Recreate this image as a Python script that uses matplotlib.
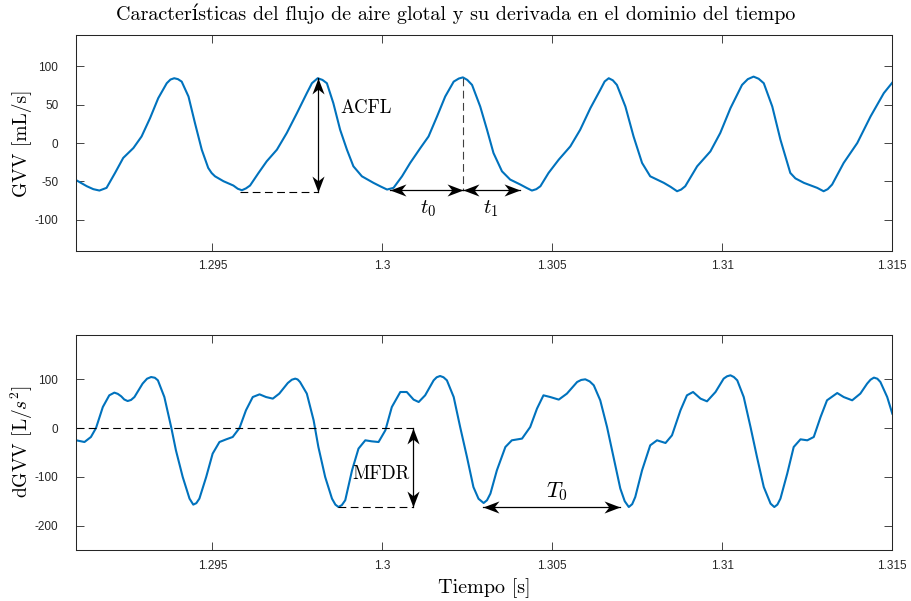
import matplotlib
matplotlib.use("Agg")
import matplotlib.pyplot as plt
from matplotlib.path import Path
from matplotlib.markers import MarkerStyle
from matplotlib.transforms import Affine2D

# ---------------- data ----------------
t_gvv = [1.29100, 1.29131, 1.29150, 1.29168, 1.29189, 1.29214, 1.29238, 1.29268, 1.29292, 1.29317,
         1.29341, 1.29366, 1.29377, 1.29388, 1.29399, 1.29410, 1.29430, 1.29449, 1.29469, 1.29488,
         1.29498, 1.29508, 1.29533, 1.29562, 1.29575, 1.29587, 1.29599, 1.29611, 1.29636, 1.29660,
         1.29690, 1.29719, 1.29749, 1.29778, 1.29793, 1.29810, 1.29824, 1.29837, 1.29856, 1.29876,
         1.29896, 1.29915, 1.29940, 1.29974, 1.29995, 1.30014, 1.30033, 1.30058, 1.30082, 1.30112,
         1.30136, 1.30161, 1.30185, 1.30210, 1.30225, 1.30237, 1.30250, 1.30264, 1.30288, 1.30308,
         1.30327, 1.30352, 1.30376, 1.30406, 1.30425, 1.30440, 1.30453, 1.30465, 1.30489, 1.30519,
         1.30553, 1.30582, 1.30612, 1.30641, 1.30654, 1.30666, 1.30678, 1.30690, 1.30715, 1.30739,
         1.30764, 1.30788, 1.30828, 1.30848, 1.30867, 1.30879, 1.30891, 1.30926, 1.30965, 1.30994,
         1.31024, 1.31058, 1.31075, 1.31092, 1.31107, 1.31122, 1.31147, 1.31171, 1.31200, 1.31215,
         1.31240, 1.31279, 1.31298, 1.31310, 1.31323, 1.31357, 1.31397, 1.31436, 1.31475, 1.31500]
gvv = [-48.4, -56.2, -60.0, -61.8, -58.3, -38.9, -19.4, -6.5, 8.5, 32.4,
       58.3, 77.7, 82.5, 84.2, 83.0, 79.8, 60.4, 25.9, -8.7, -32.4,
       -39.0, -43.3, -49.7, -55.3, -59.5, -61.4, -59.0, -55.3, -38.9, -23.8,
       -8.7, 13.0, 38.9, 64.8, 77.7, 84.2, 82.0, 77.7, 51.8, 17.2,
       -8.7, -30.3, -43.3, -51.8, -56.5, -60.5, -58.3, -43.3, -25.9, -6.5,
       8.5, 34.5, 60.4, 79.8, 83.8, 85.3, 82.0, 75.5, 47.4, 17.2,
       -13.0, -36.8, -47.5, -54.0, -58.5, -61.8, -60.0, -56.2, -38.9, -21.6,
       -4.4, 17.2, 45.3, 69.0, 80.0, 84.2, 81.5, 75.5, 47.4, 8.5,
       -25.9, -43.3, -51.8, -57.0, -62.7, -60.5, -56.2, -30.3, -10.9, 13.0,
       45.3, 75.5, 83.0, 86.3, 83.5, 77.7, 47.4, 4.3, -38.9, -46.0,
       -51.8, -58.3, -62.7, -60.0, -54.0, -25.9, 0.0, 34.5, 64.8, 78.5]

t_dgvv = [1.29100, 1.29124, 1.29143, 1.29158, 1.29178, 1.29197, 1.29212, 1.29222, 1.29232, 1.29241,
          1.29251, 1.29261, 1.29271, 1.29295, 1.29308, 1.29320, 1.29331, 1.29340, 1.29359, 1.29379,
          1.29393, 1.29413, 1.29433, 1.29444, 1.29453, 1.29462, 1.29482, 1.29501, 1.29521, 1.29541,
          1.29560, 1.29580, 1.29599, 1.29619, 1.29639, 1.29658, 1.29678, 1.29697, 1.29722, 1.29734,
          1.29744, 1.29751, 1.29758, 1.29778, 1.29798, 1.29812, 1.29832, 1.29852, 1.29862, 1.29871,
          1.29881, 1.29891, 1.29911, 1.29930, 1.29950, 1.29969, 1.29989, 1.30009, 1.30028, 1.30053,
          1.30072, 1.30092, 1.30107, 1.30126, 1.30151, 1.30160, 1.30170, 1.30180, 1.30190, 1.30210,
          1.30229, 1.30249, 1.30268, 1.30283, 1.30298, 1.30308, 1.30318, 1.30337, 1.30362, 1.30381,
          1.30411, 1.30435, 1.30455, 1.30474, 1.30494, 1.30519, 1.30543, 1.30573, 1.30585, 1.30597,
          1.30610, 1.30622, 1.30641, 1.30661, 1.30680, 1.30700, 1.30713, 1.30725, 1.30735, 1.30744,
          1.30764, 1.30788, 1.30808, 1.30833, 1.30852, 1.30877, 1.30896, 1.30914, 1.30936, 1.30955,
          1.30980, 1.31004, 1.31014, 1.31024, 1.31034, 1.31044, 1.31063, 1.31083, 1.31102, 1.31122,
          1.31142, 1.31153, 1.31162, 1.31171, 1.31191, 1.31210, 1.31230, 1.31250, 1.31269, 1.31289,
          1.31308, 1.31338, 1.31357, 1.31382, 1.31406, 1.31426, 1.31436, 1.31446, 1.31456, 1.31465,
          1.31485, 1.31500]
dgvv = [-25.2, -28.7, -18.4, 0.0, 43.0, 67.0, 72.5, 70.0, 65.0, 58.5,
        55.3, 57.5, 63.5, 91.0, 101.0, 104.5, 103.0, 97.7, 63.5, 2.0,
        -45.7, -100.4, -144.7, -157.0, -154.0, -144.7, -100.4, -52.5, -28.7, -23.2,
        -18.4, 0.0, 36.3, 63.5, 69.0, 63.5, 60.2, 70.5, 92.2, 99.0,
        101.2, 99.5, 94.3, 70.5, 15.8, -38.9, -100.4, -144.7, -157.0, -161.9,
        -158.0, -148.0, -86.7, -42.2, -25.2, -27.3, -28.7, -4.7, 43.0, 73.8,
        73.8, 58.2, 53.3, 67.0, 97.7, 104.0, 106.6, 104.0, 97.7, 63.5,
        2.0, -59.4, -121.0, -145.0, -153.7, -148.0, -134.4, -86.7, -38.9, -25.2,
        -21.7, 2.0, 39.8, 67.0, 63.5, 58.2, 70.5, 94.3, 98.5, 99.8,
        95.5, 87.5, 56.8, 2.0, -59.4, -124.0, -150.0, -161.9, -156.0, -141.4,
        -86.7, -35.5, -25.2, -30.7, -15.0, 36.3, 67.0, 73.8, 60.2, 54.7,
        73.8, 101.2, 106.0, 108.0, 104.5, 97.7, 63.5, 2.0, -59.4, -121.0,
        -155.0, -161.9, -157.0, -144.7, -93.4, -38.9, -23.2, -25.2, -18.4, 22.5,
        56.8, 71.7, 63.5, 56.8, 70.5, 91.0, 99.0, 103.3, 101.0, 94.3,
        63.5, 29.5]

x_ticks = [1.295, 1.300, 1.305, 1.310, 1.315]
x_ticklabels = ["1.295", "1.3", "1.305", "1.31", "1.315"]
y1_ticks = [-100, -50, 0, 50, 100]
y1_ticklabels = ["-100", "-50", "0", "50", "100"]
y2_ticks = [-200, -100, 0, 100]
y2_ticklabels = ["-200", "-100", "0", "100"]

# annotation values (data units)
acfl_t, acfl_top, acfl_bot, acfl_dash_start = 1.29812, 84.2, -63.5, 1.29580
peak_t, peak_v, t0_start, t1_end, t_arrow_v = 1.30237, 85.0, 1.30023, 1.30406, -61.4
mfdr_t, mfdr_bot, mfdr_dash_start = 1.30089, -161.9, 1.29871
T0_start, T0_end, T0_v = 1.30296, 1.30700, -161.9

# ---------------- style ----------------
plt.rcParams["mathtext.fontset"] = "cm"
plt.rcParams["font.family"] = ["cmr10", "DejaVu Serif"]
plt.rcParams["axes.formatter.use_mathtext"] = True

LINE = "#0072BD"
SPINE = "#262626"
TICKFONT = "Liberation Sans"

fig = plt.figure(figsize=(9.12, 6.01), dpi=100)
W, H = 912.0, 601.0
ax1 = fig.add_axes([76.3 / W, 1 - 250.7 / H, 816 / W, 215.4 / H])
ax2 = fig.add_axes([76.3 / W, 1 - 550.0 / H, 816 / W, 214.7 / H])

for ax in (ax1, ax2):
    ax.set_xlim(1.291, 1.315)
    ax.set_xticks(x_ticks)
    ax.set_xticklabels(x_ticklabels)
    ax.tick_params(direction="in", length=6, width=0.6, top=True, right=True,
                   colors=SPINE, labelsize=8.5, labelfontfamily=TICKFONT)
    ax.tick_params(axis="y", pad=13)
    ax.tick_params(axis="x", pad=7)
    for s in ax.spines.values():
        s.set_color(SPINE)
        s.set_linewidth(0.75)

ax1.set_ylim(-140, 140)
ax1.set_yticks(y1_ticks)
ax1.set_yticklabels(y1_ticklabels)
ax2.set_ylim(-250, 190)
ax2.set_yticks(y2_ticks)
ax2.set_yticklabels(y2_ticklabels)

ax1.plot(t_gvv, gvv, color=LINE, lw=1.5, solid_joinstyle="round")
ax2.plot(t_dgvv, dgvv, color=LINE, lw=1.5, solid_joinstyle="round")

DASH = dict(color="k", lw=0.8, linestyle=(0, (7, 4)))

# stealth-like arrowhead (tip at origin, pointing +x)
_head = Path([(0, 0), (-1, 0.38), (-0.7, 0), (-1, -0.38), (0, 0)],
             [Path.MOVETO, Path.LINETO, Path.LINETO, Path.LINETO, Path.CLOSEPOLY])


def head(ax, x, y, angle):
    m = MarkerStyle(_head, transform=Affine2D().rotate_deg(angle))
    ax.plot([x], [y], marker=m, markersize=23, color="k", markeredgewidth=0,
            linestyle="none", clip_on=False, zorder=4)


def darrow(ax, p1, p2):
    ax.plot([p1[0], p2[0]], [p1[1], p2[1]], color="k", lw=0.9, zorder=3)
    if p1[0] == p2[0]:
        up = p2[1] > p1[1]
        head(ax, p2[0], p2[1], 90 if up else -90)
        head(ax, p1[0], p1[1], -90 if up else 90)
    else:
        right = p2[0] > p1[0]
        head(ax, p2[0], p2[1], 0 if right else 180)
        head(ax, p1[0], p1[1], 180 if right else 0)


# top annotations
ax1.plot([acfl_dash_start, acfl_t], [acfl_bot, acfl_bot], **DASH)
darrow(ax1, (acfl_t, acfl_bot), (acfl_t, acfl_top))
ax1.text(1.29876, 45.3, "ACFL", fontsize=13.5, ha="left", va="center")
ax1.plot([peak_t, peak_t], [peak_v, t_arrow_v], color="#404040", lw=0.8, linestyle=(0, (7, 4)))
darrow(ax1, (t0_start, t_arrow_v), (peak_t, t_arrow_v))
darrow(ax1, (peak_t, t_arrow_v), (t1_end, t_arrow_v))
ax1.text(1.30136, -85, r"$t_0$", fontsize=15, ha="center", va="center")
ax1.text(1.30318, -85, r"$t_1$", fontsize=15, ha="center", va="center")

# bottom annotations
ax2.plot([1.291, mfdr_t], [0, 0], **DASH)
ax2.plot([mfdr_dash_start, mfdr_t], [mfdr_bot, mfdr_bot], **DASH)
darrow(ax2, (mfdr_t, mfdr_bot), (mfdr_t, 0))
ax2.text(1.30082, -93.5, "MFDR", fontsize=13.5, ha="right", va="center")
darrow(ax2, (T0_start, T0_v), (T0_end, T0_v))
ax2.text(1.30514, -131, r"$T_0$", fontsize=16, ha="center", va="center")

# labels and title
fig.text(22 / W, 1 - 143 / H, "GVV [mL/s]", rotation=90, ha="center", va="center", fontsize=14)
fig.text(22 / W, 1 - 442 / H, r"dGVV [L/$s^2$]", rotation=90, ha="center", va="center", fontsize=14)
fig.text(484 / W, 1 - 588 / H, "Tiempo [s]", ha="center", va="center", fontsize=14.5)
fig.text(456 / W, 1 - 14 / H,
         "Características del flujo de aire glotal y su derivada en el dominio del tiempo",
         ha="center", va="center", fontsize=14.5)

fig.savefig("out.png", dpi=100, facecolor="white")
